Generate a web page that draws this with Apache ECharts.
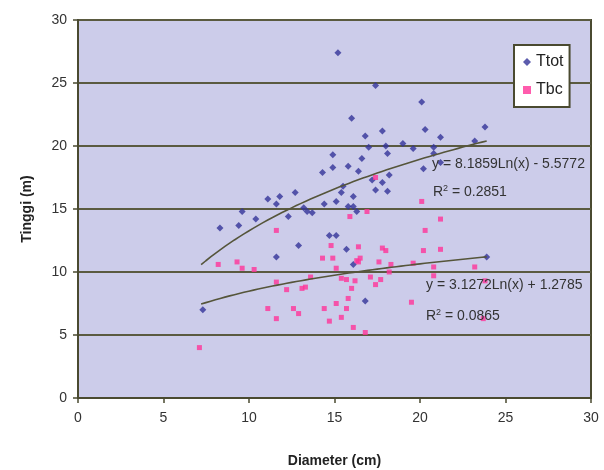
<!DOCTYPE html>
<html>
<head>
<meta charset="utf-8">
<script src="https://cdn.jsdelivr.net/npm/echarts@6/dist/echarts.min.js"></script>
<style>
html,body{margin:0;padding:0;background:#fff;}
#chart{width:604px;height:470px;}
</style>
</head>
<body>
<div id="chart"></div>
<script>
var seriesNames = ['Ttot', 'Tbc'];
var xTicks = [0, 5, 10, 15, 20, 25, 30];
var yTicks = [0, 5, 10, 15, 20, 25, 30];

var ttot = [[15.2,27.4],[16.0,22.2],[16.8,20.8],[14.9,19.3],[14.3,17.9],[14.9,18.3],[15.8,18.4],[16.6,19.0],[16.4,18.0],[11.1,15.8],[11.8,16.0],[12.7,16.3],[11.6,15.4],[15.5,16.8],[15.4,16.3],[16.1,16.0],[15.1,15.6],[14.4,15.4],[15.8,15.2],[16.1,15.2],[17.4,24.8],[20.1,23.5],[17.8,21.2],[20.3,21.3],[21.2,20.7],[23.8,21.5],[23.2,20.4],[18.1,19.4],[18.0,20.0],[17.0,19.9],[19.0,20.2],[19.6,19.8],[20.8,19.9],[20.8,19.4],[21.2,18.7],[20.2,18.2],[18.2,17.7],[17.8,17.1],[17.4,16.5],[18.1,16.4],[9.6,14.8],[10.4,14.2],[9.4,13.7],[8.3,13.5],[12.3,14.4],[11.6,11.2],[17.2,17.3],[16.3,14.8],[13.2,15.1],[13.4,14.8],[13.7,14.7],[14.7,12.9],[15.1,12.9],[12.9,12.1],[15.7,11.8],[23.9,11.2],[16.1,10.6],[16.8,7.7],[7.3,7.0]];

var tbc = [[17.4,17.5],[20.1,15.6],[11.6,13.3],[15.9,14.4],[16.9,14.8],[14.8,12.1],[16.4,12.0],[17.8,11.9],[18.0,11.7],[14.3,11.1],[14.9,11.1],[16.5,11.1],[21.2,14.2],[20.3,13.3],[20.2,11.7],[21.2,11.8],[16.4,10.8],[8.2,10.6],[9.3,10.8],[9.6,10.3],[10.3,10.2],[15.1,10.3],[11.6,9.2],[12.2,8.6],[13.1,8.7],[13.3,8.8],[13.6,9.6],[15.4,9.5],[15.7,9.4],[16.2,9.3],[16.0,8.7],[15.8,7.9],[11.1,7.1],[12.6,7.1],[12.9,6.7],[11.6,6.3],[14.4,7.1],[15.1,7.5],[15.7,7.1],[14.7,6.1],[15.4,6.4],[16.1,5.6],[16.8,5.2],[7.1,4.0],[16.3,10.9],[17.6,10.8],[18.3,10.6],[19.6,10.7],[20.8,10.4],[23.2,10.4],[20.8,9.7],[18.2,10.0],[17.1,9.6],[17.7,9.4],[17.4,9.0],[19.5,7.6],[23.7,6.3],[23.8,9.3]];

// logarithmic trendlines as printed on the chart
var trendTtot = {a: 8.1859, b: -5.5772, r2: '0.2851', from: 7.2, to: 23.9};
var trendTbc = {a: 3.1272, b: 1.2785, r2: '0.0865', from: 7.2, to: 23.9};

function trendPoints(t) {
  var pts = [];
  var n = 60;
  for (var i = 0; i <= n; i++) {
    var x = t.from + (t.to - t.from) * i / n;
    pts.push([x, t.a * Math.log(x) + t.b]);
  }
  return pts;
}

var chart = echarts.init(document.getElementById('chart'));
var font = 'Liberation Sans, Arial, sans-serif';
var lineCol = '#55553a';
var supRich = {sup: {fontSize: 9, verticalAlign: 'top', fill: '#333', fontFamily: font, padding: [0, 0, 7, 0]}};

chart.setOption({
  animation: false,
  backgroundColor: '#ffffff',
  grid: {
    left: 78, right: 13, top: 20, bottom: 72,
    outerBoundsMode: 'none', containLabel: false,
    show: true, backgroundColor: '#ccccea', borderColor: '#4a4a30', borderWidth: 2
  },
  legend: {
    data: seriesNames,
    orient: 'vertical',
    left: 514, top: 45,
    backgroundColor: '#ffffff',
    borderColor: '#4a4a30', borderWidth: 2, borderRadius: 0,
    padding: [9, 6, 9, 9],
    itemGap: 12,
    itemWidth: 8, itemHeight: 8,
    textStyle: {fontFamily: font, fontSize: 16, color: '#222'}
  },
  xAxis: {
    type: 'value', min: 0, max: 30, interval: 5,
    name: 'Diameter (cm)', nameLocation: 'middle', nameGap: 56,
    nameTextStyle: {fontFamily: font, fontSize: 14, fontWeight: 'bold', color: '#222'},
    axisLine: {lineStyle: {color: '#4a4a30', width: 2}},
    axisTick: {show: true, length: 5, lineStyle: {color: '#4a4a30', width: 1.5}},
    axisLabel: {fontFamily: font, fontSize: 14, color: '#333', margin: 13,
      formatter: function (v) { return xTicks.indexOf(v) >= 0 ? String(v) : ''; }},
    splitLine: {show: false}
  },
  yAxis: {
    type: 'value', min: 0, max: 30, interval: 5,
    name: 'Tinggi (m)', nameLocation: 'middle', nameGap: 44, nameRotate: 90,
    nameTextStyle: {fontFamily: font, fontSize: 14, fontWeight: 'bold', color: '#222'},
    axisLine: {lineStyle: {color: '#4a4a30', width: 2}},
    axisTick: {show: true, length: 5, lineStyle: {color: '#4a4a30', width: 1.5}},
    axisLabel: {fontFamily: font, fontSize: 14, color: '#333', margin: 11,
      formatter: function (v) { return yTicks.indexOf(v) >= 0 ? String(v) : ''; }},
    splitLine: {show: true, lineStyle: {color: '#5a5a40', width: 2}}
  },
  series: [
    {
      name: 'Ttot', type: 'scatter', symbol: 'diamond', symbolSize: 7,
      itemStyle: {color: '#333399'}, data: ttot, z: 3
    },
    {
      name: 'Tbc', type: 'scatter', symbol: 'rect', symbolSize: 5,
      itemStyle: {color: '#ff3399'}, data: tbc, z: 3
    },
    {
      name: 'trendTtot', type: 'line', showSymbol: false, symbol: 'none',
      lineStyle: {color: lineCol, width: 1.6}, data: trendPoints(trendTtot), z: 4
    },
    {
      name: 'trendTbc', type: 'line', showSymbol: false, symbol: 'none',
      lineStyle: {color: lineCol, width: 1.6}, data: trendPoints(trendTbc), z: 4
    }
  ],
  graphic: [
    {type: 'text', left: 432, top: 157, z: 10,
     style: {text: 'y = ' + trendTtot.a + 'Ln(x) - ' + Math.abs(trendTtot.b), fontFamily: font, fontSize: 14, fill: '#333'}},
    {type: 'text', left: 433, top: 184, z: 10,
     style: {text: 'R{sup|2} = ' + trendTtot.r2, fontFamily: font, fontSize: 14, fill: '#333', rich: supRich}},
    {type: 'text', left: 426, top: 278, z: 10,
     style: {text: 'y = ' + trendTbc.a + 'Ln(x) + ' + trendTbc.b, fontFamily: font, fontSize: 14, fill: '#333'}},
    {type: 'text', left: 426, top: 308, z: 10,
     style: {text: 'R{sup|2} = ' + trendTbc.r2, fontFamily: font, fontSize: 14, fill: '#333', rich: supRich}}
  ]
});
</script>
</body>
</html>
